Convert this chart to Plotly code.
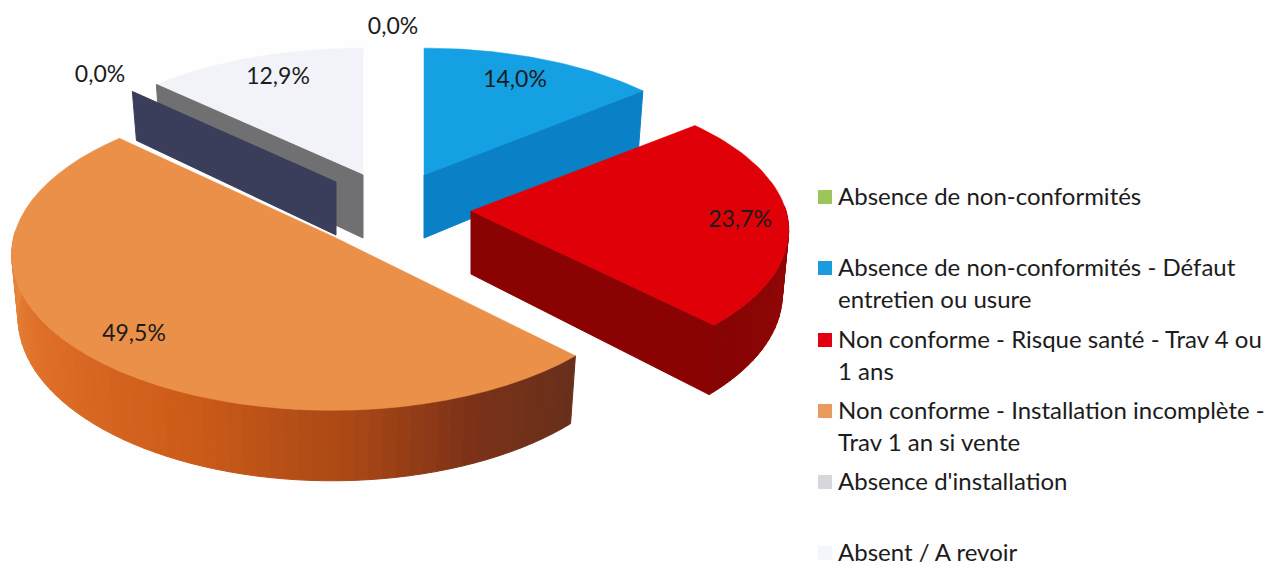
import math
import plotly.graph_objects as go

categories = ["Absence de non-conformités",
              "Absence de non-conformités - Défaut\nentretien ou usure",
              "Non conforme - Risque santé - Trav 4 ou\n1 ans",
              "Non conforme - Installation incomplète -\nTrav 1 an si vente",
              "Absence d'installation",
              "Absent / A revoir"]
values = [0.0, 14.0, 23.7, 49.5, 0.0, 12.9]
labels = ["0,0%", "14,0%", "23,7%", "49,5%", "0,0%", "12,9%"]
label_x = [393, 515, 740, 134, 100, 278]
label_y = [28, 81, 221, 335, 76, 78]
top_colors = ["#9bc75a", "#14a0e2", "#e00008", "#ea9048", "#3c4060", "#f1f3f8"]
legend_colors = ["#9bc75a", "#1a9be0", "#e00010", "#eb9a5f", "#d6d6db", "#f3f6fb"]
legend_y = [197, 268, 340, 411, 482, 553]
LINE_GAP = 32
TEXT = "#1c1c1c"
FONT = "Lato"

# per-slice view: apex x, apex y, x scale, y scale, perspective, wall height
view = [(424, 175, 1.0, 1.0, .12, 0),
        (424, 175, 1.02, .98, .12, 63),
        (471, 211, 1.05, 1.0, .13, 63),
        (332, 236, 1.06, 1.058, .12, 62),
        (336, 182, 1.015, .98, .12, 53),
        (363, 175, 1.03, .98, .12, 63)]
A, B, SHRINK = 300, 145, .98

total = sum(values)
bounds = [0.0]
for v in values:
    bounds.append(bounds[-1] + v / total * 2 * math.pi)


def project(i, th, r=1.0, low=False):
    cx, cy, sx, sy, k, h = view[i]
    X, Y = r * math.sin(th), -r * math.cos(th)
    w = 1 - k * Y
    dx, dy = sx * A * X / w, sy * B * Y / w
    if low:
        dx *= SHRINK
        dy += h / w
    return cx + dx, cy + dy


def arc(i, a, b, n=48, low=False):
    return [project(i, a + (b - a) * j / n, low=low) for j in range(n + 1)]


fig = go.Figure()


def poly(pts, color, lw=1):
    fig.add_trace(go.Scatter(x=[p[0] for p in pts] + [pts[0][0]],
                             y=[p[1] for p in pts] + [pts[0][1]],
                             mode="lines", fill="toself", fillcolor=color,
                             line=dict(color=color, width=lw),
                             hoverinfo="skip", showlegend=False))


def face(i, th, color):
    poly([project(i, 0, r=0), project(i, th), project(i, th, low=True),
          project(i, 0, r=0, low=True)], color)


def top(i, a=None, b=None):
    a = bounds[i] if a is None else a
    b = bounds[i + 1] if b is None else b
    poly([project(i, 0, r=0)] + arc(i, a, b), top_colors[i], 0.5)


def mix(stops, t):
    for (t0, c0), (t1, c1) in zip(stops, stops[1:]):
        if t <= t1:
            f = (t - t0) / (t1 - t0)
            return "rgb(%d,%d,%d)" % tuple(c0[j] + (c1[j] - c0[j]) * f for j in range(3))
    return "rgb(%d,%d,%d)" % stops[-1][1]


def outer_wall(i, a, b, stops, n=60):
    for j in range(n):
        t0, t1 = a + (b - a) * j / n, a + (b - a) * (j + 1) / n
        poly([project(i, t0), project(i, t1), project(i, t1, low=True), project(i, t0, low=True)],
             mix(stops, j / (n - 1)))


# white slice and its wall
top(5)
face(5, bounds[5], "#707072")
# dark wall of the empty slice
face(4, bounds[4], "#3a3e5a")
# orange
outer_wall(3, bounds[3], math.radians(272),
           [(0, (104, 48, 28)), (.15, (125, 50, 25)), (.3, (170, 72, 22)), (.5, (205, 92, 25)),
            (.75, (222, 110, 40)), (1, (232, 135, 62))])
top(3)
# blue
face(1, bounds[2], "#0a80c6")
top(1)
# red
outer_wall(2, math.radians(88), bounds[3], [(0, (150, 8, 8)), (1, (135, 4, 4))], n=24)
face(2, bounds[3], "#8a0202")
top(2)

# value labels
fig.add_trace(go.Scatter(x=label_x, y=label_y, mode="text", text=labels,
                         textposition="middle center",
                         textfont=dict(family=FONT, size=23, color=TEXT),
                         hoverinfo="skip", showlegend=False))

# legend
fig.add_trace(go.Scatter(x=[825] * len(legend_y), y=legend_y, mode="markers",
                         marker=dict(symbol="square", size=14, color=legend_colors),
                         hoverinfo="skip", showlegend=False))
lx, ly, lt = [], [], []
for name, y in zip(categories, legend_y):
    for n, line in enumerate(name.split("\n")):
        lx.append(838)
        ly.append(y + 2 + n * LINE_GAP)
        lt.append(line)
fig.add_trace(go.Scatter(x=lx, y=ly, mode="text", text=lt, textposition="middle right",
                         textfont=dict(family=FONT, size=24, color=TEXT),
                         hoverinfo="skip", showlegend=False))

fig.update_layout(width=1265, height=566, margin=dict(l=0, r=0, t=0, b=0),
                  paper_bgcolor="#fefefe", plot_bgcolor="#fefefe",
                  xaxis=dict(range=[0, 1265], visible=False, fixedrange=True),
                  yaxis=dict(range=[566, 0], visible=False, fixedrange=True))
fig.write_html("out.html", config={"displayModeBar": False},
               post_script="document.body.style.margin='0';document.documentElement.style.overflow='hidden';")
